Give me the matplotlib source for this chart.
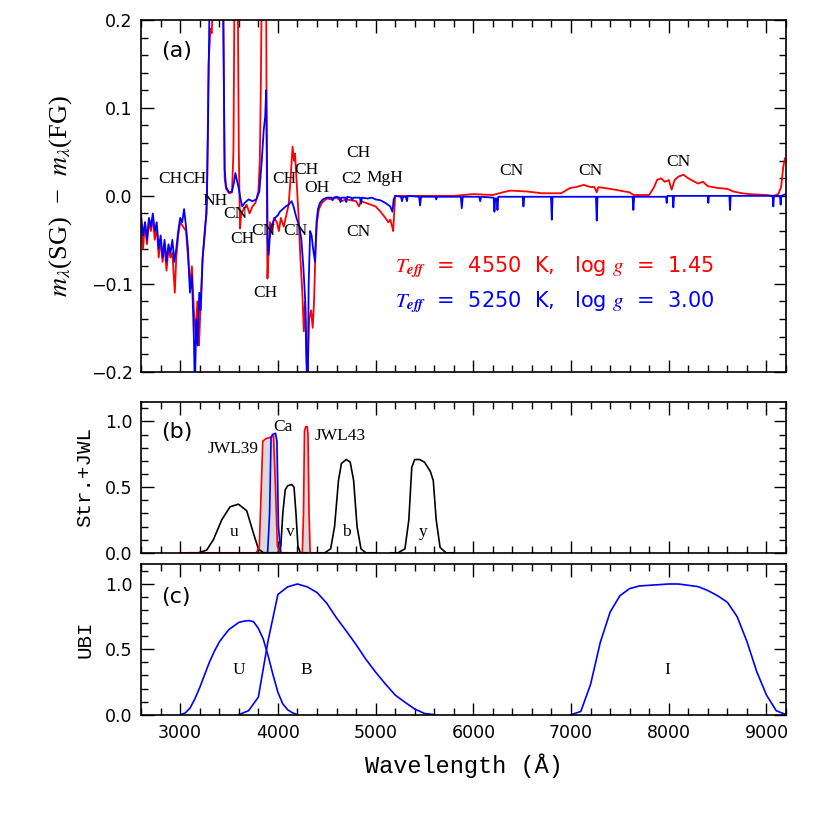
import matplotlib.pyplot as plt
import numpy as np
from matplotlib.ticker import MultipleLocator

plt.rcParams['mathtext.fontset'] = 'stix'

# panel (a): SG - FG magnitude differences
blue_wl = [2600, 2620, 2640, 2660, 2680, 2700, 2720, 2740, 2760, 2780, 2800, 2820, 2840, 2860, 2880,
           2900, 2920, 2940, 2960, 2980, 3000, 3020, 3040, 3060, 3080, 3100, 3120, 3140, 3150, 3165,
           3180, 3195, 3210, 3230, 3255, 3270, 3285, 3300, 3440, 3455, 3470, 3500, 3530, 3550, 3565,
           3580, 3600, 3620, 3635, 3660, 3700, 3740, 3780, 3810, 3835, 3855, 3870, 3880, 3888, 3895,
           3905, 3915, 3930, 3950, 3970, 4000, 4020, 4050, 4080, 4110, 4140, 4160, 4190, 4220, 4240,
           4260, 4280, 4295, 4305, 4315, 4330, 4345, 4360, 4380, 4395, 4410, 4430, 4460, 4500, 4550,
           4560, 4570, 4600, 4630, 4640, 4650, 4690, 4700, 4710, 4750, 4760, 4770, 4840, 4850, 4860,
           4920, 4960, 5000, 5050, 5100, 5150, 5172, 5185, 5200, 5260, 5270, 5280, 5310, 5320, 5330,
           5445, 5455, 5465, 5610, 5620, 5630, 5872, 5882, 5892, 6060, 6070, 6080, 6208, 6216, 6224,
           6240, 6247, 6255, 6505, 6513, 6521, 6795, 6803, 6811, 7255, 7263, 7271, 7630, 7638, 7646,
           7972, 7979, 7986, 8040, 8047, 8054, 8398, 8405, 8412, 8620, 8627, 8634, 9063, 9070, 9077,
           9138, 9145, 9152, 9200]
blue_dm = [-0.025, -0.045, -0.03, -0.05, -0.025, -0.035, -0.02, -0.04, -0.03, -0.06, -0.045, -0.07, -0.05, -0.075, -0.055,
           -0.065, -0.05, -0.075, -0.06, -0.04, -0.025, -0.03, -0.015, -0.035, -0.06, -0.11, -0.09, -0.16, -0.22, -0.14,
           -0.17, -0.11, -0.13, -0.07, -0.035, -0.02, 0.08, 0.22, 0.22, 0.03, 0.01, 0.004, 0.005, 0.015, 0.026,
           0.018, 0.008, -0.005, -0.012, -0.008, -0.004, -0.006, -0.004, 0.005, 0.04, 0.075, 0.09, 0.12, 0.04, -0.05,
           -0.067, -0.05, -0.035, -0.03, -0.025, -0.022, -0.018, -0.015, -0.012, -0.01, -0.006, -0.012, -0.025, -0.035, -0.05,
           -0.08, -0.12, -0.2, -0.22, -0.1, -0.04, -0.045, -0.06, -0.075, -0.03, -0.015, -0.008, -0.004, -0.002, -0.002,
           -0.005, -0.002, -0.001, -0.002, -0.007, -0.002, -0.002, -0.007, -0.001, -0.002, -0.005, -0.002, -0.002, -0.009, -0.002,
           -0.003, -0.002, -0.004, -0.005, -0.008, -0.012, -0.018, -0.004, 0.0, -0.001, -0.006, -0.001, -0.001, -0.006, 0.0,
           -0.001, -0.011, -0.001, -0.001, -0.004, -0.001, -0.001, -0.014, -0.001, -0.001, -0.006, -0.001, -0.002, -0.018, -0.003,
           -0.003, -0.016, -0.001, -0.001, -0.012, -0.001, -0.001, -0.027, -0.001, -0.001, -0.028, -0.001, -0.001, -0.016, -0.001,
           -0.001, -0.008, 0.0, 0.0, -0.013, 0.0, 0.0, -0.008, 0.0, 0.0, -0.016, 0.0, 0.0, -0.012, 0.0,
           0.0, -0.01, 0.0, 0.002]

red_wl = [2600, 2620, 2640, 2660, 2680, 2700, 2720, 2740, 2760, 2780, 2800, 2820, 2840, 2860, 2880,
          2900, 2920, 2945, 2960, 2980, 3000, 3030, 3060, 3080, 3100, 3120, 3140, 3160, 3175, 3193,
          3210, 3230, 3255, 3275, 3290, 3310, 3323, 3335, 3440, 3455, 3470, 3500, 3530, 3545, 3555,
          3590, 3600, 3612, 3625, 3650, 3680, 3710, 3740, 3770, 3800, 3815, 3825, 3833, 3880, 3888,
          3893, 3905, 3920, 3940, 3960, 3990, 4010, 4030, 4060, 4090, 4110, 4130, 4150, 4165, 4175,
          4190, 4210, 4230, 4250, 4265, 4278, 4295, 4305, 4320, 4340, 4356, 4370, 4385, 4400, 4420,
          4450, 4500, 4550, 4600, 4650, 4700, 4750, 4800, 4830, 4850, 4900, 4950, 5000, 5050, 5100,
          5130, 5150, 5170, 5180, 5190, 5200, 5300, 5500, 5800, 6000, 6200, 6300, 6380, 6550, 6700,
          6900, 6990, 7050, 7130, 7200, 7240, 7263, 7280, 7400, 7500, 7600, 7640, 7700, 7800, 7850,
          7880, 7920, 7960, 8000, 8030, 8060, 8100, 8150, 8200, 8250, 8300, 8350, 8400, 8500, 8600,
          8660, 8750, 8830, 9000, 9070, 9120, 9150, 9172, 9190, 9200]
red_dm = [-0.02, -0.06, -0.03, -0.055, -0.03, -0.04, -0.025, -0.05, -0.035, -0.07, -0.05, -0.075, -0.055, -0.085, -0.06,
          -0.07, -0.065, -0.11, -0.07, -0.045, -0.03, -0.035, -0.04, -0.07, -0.1, -0.08, -0.13, -0.16, -0.12, -0.17,
          -0.12, -0.07, -0.04, 0.0, 0.15, 0.19, 0.185, 0.22, 0.22, 0.02, 0.008, 0.003, 0.004, 0.05, 0.22,
          0.22, 0.05, -0.037, -0.02, -0.015, -0.01, -0.02, -0.012, -0.008, 0.005, 0.04, 0.12, 0.22, 0.22, -0.02,
          -0.094, -0.06, -0.03, -0.04, -0.025, -0.03, -0.04, -0.025, -0.035, -0.02, -0.01, 0.02, 0.056, 0.04, 0.048,
          0.02, -0.02, -0.07, -0.11, -0.154, -0.12, -0.19, -0.2, -0.14, -0.13, -0.15, -0.12, -0.06, -0.03, -0.015,
          -0.008, -0.003, -0.004, -0.002, -0.006, -0.004, -0.005, -0.006, -0.012, -0.006, -0.008, -0.01, -0.012, -0.018, -0.025,
          -0.03, -0.027, -0.035, -0.04, -0.02, 0.0, 0.0, 0.0, 0.0, 0.002, 0.001, 0.004, 0.006, 0.005, 0.003,
          0.003, 0.009, 0.01, 0.0125, 0.01, 0.01, 0.004, 0.01, 0.008, 0.006, 0.004, 0.001, 0.001, 0.001, 0.01,
          0.018, 0.02, 0.016, 0.018, 0.007, 0.018, 0.022, 0.024, 0.02, 0.017, 0.014, 0.016, 0.011, 0.009, 0.008,
          0.005, 0.003, 0.002, 0.001, 0.0, 0.002, 0.01, 0.033, 0.043, 0.04]

# panel (b): Stromgren + JWL filters
u_wl = [3100, 3186, 3271, 3340, 3425, 3510, 3596, 3681, 3749, 3800, 3851, 3950]
u_tr = [0.0, 0.0, 0.02, 0.1, 0.25, 0.35, 0.37, 0.32, 0.15, 0.03, 0.0, 0.0]
v_wl = [3950, 4000, 4030, 4050, 4075, 4100, 4140, 4165, 4185, 4205, 4230, 4300]
v_tr = [0.0, 0.0, 0.05, 0.3, 0.48, 0.51, 0.52, 0.5, 0.3, 0.05, 0.0, 0.0]
b_wl = [4400, 4480, 4540, 4580, 4620, 4650, 4700, 4740, 4775, 4810, 4850, 4900, 5000]
b_tr = [0.0, 0.0, 0.03, 0.2, 0.55, 0.68, 0.71, 0.69, 0.55, 0.2, 0.03, 0.0, 0.0]
y_wl = [5150, 5230, 5300, 5340, 5370, 5400, 5450, 5500, 5560, 5590, 5620, 5660, 5720, 5800]
y_tr = [0.0, 0.0, 0.03, 0.25, 0.65, 0.71, 0.71, 0.69, 0.62, 0.55, 0.25, 0.04, 0.0, 0.0]
jwl39_wl = [3000, 3780, 3810, 3830, 3845, 3880, 3930, 3955, 3975, 3995, 4020, 4100]
jwl39_tr = [0.0, 0.0, 0.05, 0.5, 0.85, 0.87, 0.88, 0.89, 0.5, 0.05, 0.0, 0.0]
ca_wl = [3850, 3895, 3915, 3930, 3945, 3975, 3990, 4005, 4030, 4080]
ca_tr = [0.0, 0.0, 0.3, 0.88, 0.9, 0.91, 0.85, 0.2, 0.0, 0.0]
jwl43_wl = [4100, 4250, 4262, 4272, 4285, 4300, 4308, 4318, 4330, 4400]
jwl43_tr = [0.0, 0.0, 0.3, 0.93, 0.96, 0.96, 0.9, 0.3, 0.0, 0.0]

# panel (c): Bessell U, B, I
U_wl = [3000, 3050, 3100, 3150, 3200, 3250, 3300, 3350, 3400, 3450, 3500, 3550, 3600, 3650,
        3700, 3750, 3800, 3850, 3900, 3950, 4000, 4050, 4100, 4150, 4200]
U_tr = [0.0, 0.012, 0.049, 0.12, 0.207, 0.305, 0.403, 0.485, 0.556, 0.606, 0.652, 0.679, 0.706, 0.715,
        0.72, 0.712, 0.66, 0.579, 0.45, 0.305, 0.171, 0.082, 0.037, 0.014, 0.0]
B_wl = [3600, 3700, 3800, 3900, 4000, 4100, 4200, 4300, 4400, 4500, 4600, 4700, 4800, 4900,
        5000, 5100, 5200, 5300, 5400, 5500, 5600]
B_tr = [0.0, 0.03, 0.134, 0.567, 0.92, 0.978, 1.0, 0.978, 0.935, 0.853, 0.74, 0.64, 0.536, 0.424,
        0.325, 0.235, 0.15, 0.095, 0.043, 0.009, 0.0]
I_wl = [7000, 7100, 7200, 7300, 7400, 7500, 7600, 7700, 7800, 7900, 8000, 8100, 8200, 8300,
        8400, 8500, 8600, 8700, 8800, 8900, 9000, 9100, 9200]
I_tr = [0.0, 0.024, 0.232, 0.555, 0.785, 0.91, 0.965, 0.985, 0.99, 0.995, 1.0, 1.0, 0.99, 0.98,
        0.95, 0.91, 0.86, 0.75, 0.56, 0.33, 0.15, 0.03, 0.0]

fig = plt.figure(figsize=(8.3, 8.3), dpi=100)
L, W = 0.17, 0.777
ax1 = fig.add_axes([L, 0.552, W, 0.424])
ax2 = fig.add_axes([L, 0.334, W, 0.182])
ax3 = fig.add_axes([L, 0.139, W, 0.181])

for ax in (ax1, ax2, ax3):
    ax.set_xlim(2600, 9200)
    ax.xaxis.set_major_locator(MultipleLocator(1000))
    ax.xaxis.set_minor_locator(MultipleLocator(200))
    ax.tick_params(which='both', direction='in', top=True, right=True, width=1.0, labelsize=12.5)
    ax.tick_params(which='major', length=9)
    ax.tick_params(which='minor', length=5)
    ax.tick_params(axis='y', pad=6)
    ax.tick_params(axis='x', pad=7)
    for s in ax.spines.values():
        s.set_linewidth(1.2)
ax1.tick_params(labelbottom=False)
ax2.tick_params(labelbottom=False)

ann = dict(family='Liberation Serif', fontsize=12.5, ha='center', va='center')

# (a)
ax1.plot(red_wl, red_dm, color='red', lw=1.3)
ax1.plot(blue_wl, blue_dm, color='blue', lw=1.3)
ax1.set_ylim(-0.2, 0.2)
ax1.yaxis.set_major_locator(MultipleLocator(0.1))
ax1.yaxis.set_minor_locator(MultipleLocator(0.02))
ax1.set_yticks([-0.2, -0.1, 0.0, 0.1, 0.2])
ax1.set_yticklabels(['\u22120.2', '\u22120.1', '0.0', '0.1', '0.2'])
ax1.set_ylabel('$m_\\lambda$(SG)  \u2212  $m_\\lambda$(FG)',
               family='Liberation Serif', fontsize=19, labelpad=12)
ax1.text(2800, 0.165, '(a)', fontsize=16, va='center')
mols = [('CH', 2897, 0.0187), ('CH', 3142, 0.0187), ('NH', 3357, -0.0056), ('CN', 3562, -0.0206),
        ('CH', 3640, -0.049), ('CN', 3851, -0.040), ('CH', 3868, -0.110), ('CH', 4063, 0.0187),
        ('CH', 4295, 0.029), ('CN', 4175, -0.040), ('OH', 4397, 0.0086), ('CH', 4823, 0.049),
        ('C2', 4755, 0.0187), ('MgH', 5096, 0.02), ('CN', 4823, -0.041), ('CN', 6393, 0.0288),
        ('CN', 7201, 0.0288), ('CN', 8098, 0.039)]
for name, x, y in mols:
    ax1.text(x, y, name, **ann)
ax1.text(5200, -0.081, r'$T_{\mathbfit{eff}}$  =  4550  K,   log $g$  =  1.45', color='red',
         fontsize=15, va='center')
ax1.text(5200, -0.121, r'$T_{\mathbfit{eff}}$  =  5250  K,   log $g$  =  3.00', color='blue',
         fontsize=15, va='center')

# (b)
ax2.fill_between(jwl39_wl, jwl39_tr, color='#d9d9de')
ax2.fill_between(ca_wl, ca_tr, color='#d9d9de')
ax2.fill_between(jwl43_wl, jwl43_tr, color='#d9d9de')
for wl, tr in ((u_wl, u_tr), (v_wl, v_tr), (b_wl, b_tr), (y_wl, y_tr)):
    ax2.plot(wl, tr, color='black', lw=1.2)
ax2.plot(jwl39_wl, jwl39_tr, color='red', lw=1.2)
ax2.plot(jwl43_wl, jwl43_tr, color='red', lw=1.2)
ax2.plot(ca_wl, ca_tr, color='blue', lw=1.2)
ax2.set_ylim(0, 1.15)
ax2.yaxis.set_major_locator(MultipleLocator(0.5))
ax2.yaxis.set_minor_locator(MultipleLocator(0.1))
ax2.yaxis.set_major_formatter(lambda v, p: f'{v:.1f}')
ax2.set_ylabel('Str.+JWL', family='Liberation Mono', fontsize=15, labelpad=8)
ax2.text(2800, 0.92, '(b)', fontsize=16, va='center')
ax2.text(3544, 0.79, 'JWL39', **ann)
ax2.text(4056, 0.96, 'Ca', **ann)
ax2.text(4373, 0.89, 'JWL43', family='Liberation Serif', fontsize=12.5, va='center')
for name, x in (('u', 3555), ('v', 4124), ('b', 4704), ('y', 5488)):
    ax2.text(x, 0.16, name, **ann)

# (c)
ax3.plot(U_wl, U_tr, color='blue', lw=1.2)
ax3.plot(B_wl, B_tr, color='blue', lw=1.2)
ax3.plot(I_wl, I_tr, color='blue', lw=1.2)
ax3.set_ylim(0, 1.15)
ax3.yaxis.set_major_locator(MultipleLocator(0.5))
ax3.yaxis.set_minor_locator(MultipleLocator(0.1))
ax3.yaxis.set_major_formatter(lambda v, p: f'{v:.1f}')
ax3.set_ylabel('UBI', family='Liberation Mono', fontsize=15, labelpad=8)
ax3.text(2800, 0.9, '(c)', fontsize=16, va='center')
for name, x in (('U', 3597), ('B', 4295), ('I', 7986)):
    ax3.text(x, 0.34, name, **ann)
ax3.set_xlabel('Wavelength (\u00c5)', family='Liberation Mono', fontsize=17, labelpad=8)

fig.savefig('out.png', dpi=100)
